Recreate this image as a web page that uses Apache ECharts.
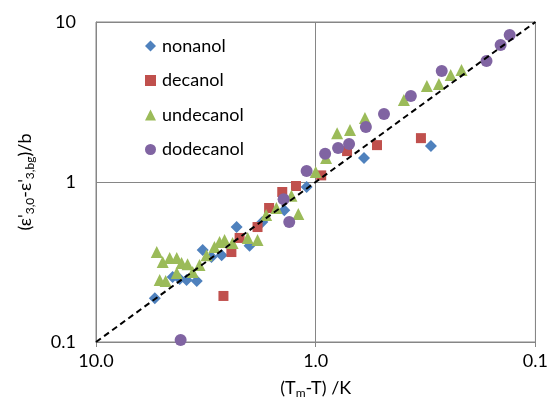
<!DOCTYPE html>
<html>
<head>
<meta charset="utf-8">
<script src="https://cdn.jsdelivr.net/npm/echarts@6/dist/echarts.min.js"></script>
<style>html,body{margin:0;padding:0;background:#fff}#c{width:551px;height:405px}</style>
</head>
<body>
<div id="c"></div>
<script>
var seriesNames = ['nonanol', 'decanol', 'undecanol', 'dodecanol'];
var xTicks = [0.1, 1, 10];
var yTicks = [0.1, 1, 10];

var nonanol = [[5.40,0.188],[4.48,0.255],[4.16,0.248],[3.87,0.244],[3.48,0.241],[3.27,0.376],[2.98,0.340],[2.68,0.348],[2.29,0.523],[2.00,0.40],[1.75,0.562],[1.39,0.667],[1.10,0.93],[0.603,1.41],[0.299,1.68]];
var decanol = [[2.63,0.194],[2.42,0.365],[2.22,0.447],[1.84,0.523],[1.63,0.688],[1.42,0.866],[1.23,0.944],[0.944,1.10],[0.720,1.56],[0.526,1.70],[0.332,1.88]];
var undecanol = [[5.29,0.365],[4.97,0.316],[4.62,0.335],[4.29,0.335],[4.08,0.312],[3.83,0.306],[5.13,0.244],[4.82,0.241],[4.29,0.270],[3.63,0.274],[3.38,0.303],[3.14,0.348],[2.89,0.392],[2.74,0.422],[2.60,0.434],[2.39,0.415],[2.04,0.447],[1.84,0.434],[1.68,0.622],[1.51,0.688],[1.29,0.82],[1.20,0.63],[1.00,1.155],[0.897,1.41],[0.799,2.02],[0.698,2.11],[0.597,2.51],[0.397,3.25],[0.312,3.98],[0.275,4.10],[0.243,4.66],[0.217,5.01]];
var dodecanol = [[4.12,0.103],[1.40,0.78],[1.32,0.562],[1.10,1.17],[0.906,1.50],[0.791,1.63],[0.705,1.73],[0.591,2.21],[0.489,2.66],[0.369,3.45],[0.267,4.94],[0.167,5.70],[0.144,7.18],[0.131,8.29]];
var refLine = [[10,0.1],[0.1,10]];

var FONT = 'Lato';
var FS = 18;
var gray = '#868686';
function fmtTick(v, dec){
  var e = Math.round(Math.log10(v));
  var val = Math.pow(10, e);
  if (dec) return val.toFixed(1);
  return val >= 1 ? String(val) : val.toFixed(1);
}
var chart = echarts.init(document.getElementById('c'), null, {renderer:'canvas'});
chart.setOption({
  animation: false,
  backgroundColor: '#fff',
  textStyle: {fontFamily: FONT},
  grid: {left: 96, right: 14, top: 22, bottom: 63, show: true, borderColor: gray, borderWidth: 1},
  legend: {
    orient: 'vertical', left: 140, top: 32, itemGap: 16.5, itemWidth: 11, itemHeight: 11,
    data: seriesNames,
    textStyle: {fontFamily: FONT, fontSize: FS, color: '#000', padding: [0,0,0,1]}
  },
  xAxis: {
    type: 'log', logBase: 10, min: 0.1, max: 10, inverse: true,
    name: '{a|(T}{s|m}{a|-T) /K}', nameLocation: 'middle', nameGap: 35,
    nameTextStyle: {rich: {
      a: {fontFamily: FONT, fontSize: FS, color: '#000', lineHeight: 22},
      s: {fontFamily: FONT, fontSize: 12, color: '#000', lineHeight: 22, verticalAlign: 'bottom', padding: [9,0,0,0]}
    }},
    axisLine: {show: true, lineStyle: {color: gray, width: 1}},
    axisTick: {show: true, length: 5, lineStyle: {color: gray}},
    minorTick: {show: false},
    axisLabel: {fontFamily: FONT, fontSize: FS, color: '#000', margin: 10, formatter: function(v){return fmtTick(v, true);}},
    splitLine: {show: true, lineStyle: {color: gray, width: 1}}
  },
  yAxis: {
    type: 'log', logBase: 10, min: 0.1, max: 10,
    name: '{a|(ε\'}{s|3,0}{a|-ε\'}{s|3,bg}{a|)/b}', nameLocation: 'middle', nameGap: 60, nameRotate: 90,
    nameTextStyle: {rich: {
      a: {fontFamily: FONT, fontSize: FS, color: '#000', lineHeight: 22},
      s: {fontFamily: FONT, fontSize: 12, color: '#000', lineHeight: 22, verticalAlign: 'bottom', padding: [9,0,0,0]}
    }},
    axisLine: {show: true, lineStyle: {color: gray, width: 1}},
    axisTick: {show: false},
    axisLabel: {fontFamily: FONT, fontSize: FS, color: '#000', margin: 20, formatter: function(v){return fmtTick(v, false);}},
    splitLine: {show: true, lineStyle: {color: gray, width: 1}}
  },
  series: [
    {name: 'nonanol', type: 'scatter', data: nonanol, symbol: 'diamond', symbolSize: 12, itemStyle: {color: '#4F81BD', opacity: 1}},
    {name: 'decanol', type: 'scatter', data: decanol, symbol: 'rect', symbolSize: 10, itemStyle: {color: '#C0504D', opacity: 1}},
    {name: 'undecanol', type: 'scatter', data: undecanol, symbol: 'triangle', symbolSize: 12, itemStyle: {color: '#9BBB59', opacity: 1}},
    {name: 'dodecanol', type: 'scatter', data: dodecanol, symbol: 'circle', symbolSize: 12, itemStyle: {color: '#8064A2', opacity: 1}},
    {name: 'ref', type: 'line', data: refLine, symbol: 'none', silent: true, z: 5,
     lineStyle: {color: '#000', width: 2, type: [6, 4]}}
  ]
});
</script>
</body>
</html>
